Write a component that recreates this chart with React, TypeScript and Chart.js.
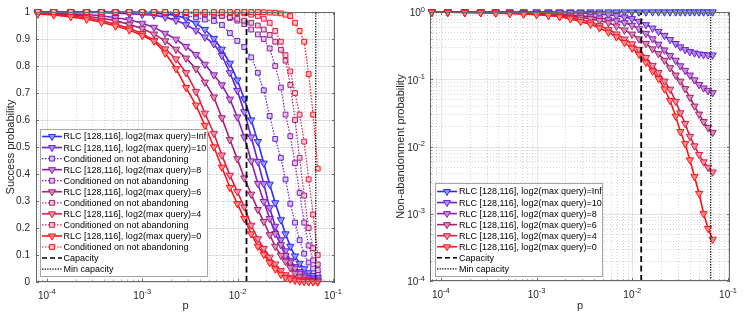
import React, { useEffect, useRef } from "react";
import { Chart, registerables } from "chart.js";
Chart.register(...registerables);

const FONT = '"Liberation Sans", Arial, Helvetica, sans-serif';

// channel error probability p (x values, shared by every series)
const P = [8.05e-5, 1.18e-4, 1.78e-4, 2.61e-4, 3.74e-4, 5.24e-4, 7.33e-4, 1.0e-3, 1.33e-3, 1.74e-3, 2.26e-3, 2.88e-3, 3.66e-3, 4.54e-3, 5.64e-3, 6.84e-3, 8.3e-3, 9.93e-3, 1.175e-2, 1.39e-2, 1.63e-2, 1.88e-2, 2.17e-2, 2.48e-2, 2.84e-2, 3.18e-2, 3.57e-2, 4.0e-2, 4.47e-2, 4.99e-2, 5.56e-2, 6.19e-2, 6.92e-2];

// success probability (left panel)
const S_INF = [1, 1, 1, 1, 1, 0.999, 0.999, 0.998, 0.996, 0.993, 0.987, 0.976, 0.958, 0.935, 0.902, 0.862, 0.81, 0.748, 0.678, 0.6, 0.52, 0.44, 0.362, 0.293, 0.23, 0.178, 0.132, 0.096, 0.069, 0.049, 0.034, 0.024, 0.016];
const S_10 = [1, 1, 0.999, 0.998, 0.998, 0.996, 0.994, 0.991, 0.988, 0.981, 0.969, 0.953, 0.932, 0.907, 0.882, 0.839, 0.775, 0.709, 0.63, 0.537, 0.446, 0.364, 0.275, 0.206, 0.156, 0.115, 0.08, 0.0565, 0.038, 0.0249, 0.0167, 0.0115, 0.0076];
const S_8 = [0.998, 0.995, 0.993, 0.991, 0.986, 0.979, 0.971, 0.958, 0.943, 0.921, 0.899, 0.872, 0.842, 0.806, 0.767, 0.73, 0.677, 0.611, 0.537, 0.448, 0.365, 0.298, 0.235, 0.179, 0.138, 0.098, 0.073, 0.0506, 0.0322, 0.0183, 0.01, 0.0054, 0.0028];
const S_6 = [0.995, 0.993, 0.989, 0.984, 0.977, 0.968, 0.954, 0.939, 0.918, 0.893, 0.862, 0.829, 0.79, 0.74, 0.685, 0.608, 0.527, 0.456, 0.385, 0.325, 0.268, 0.224, 0.175, 0.132, 0.099, 0.0765, 0.0529, 0.0322, 0.0183, 0.0097, 0.0047, 0.0024, 0.0011];
const S_4 = [0.995, 0.991, 0.986, 0.979, 0.968, 0.955, 0.94, 0.92, 0.895, 0.863, 0.826, 0.775, 0.705, 0.625, 0.55, 0.47, 0.395, 0.335, 0.278, 0.21, 0.16, 0.124, 0.0915, 0.0665, 0.0417, 0.0265, 0.0171, 0.0099, 0.0063, 0.0039, 0.0022, 0.0012, 0.0004];
const S_0 = [0.993, 0.989, 0.982, 0.973, 0.962, 0.948, 0.933, 0.913, 0.892, 0.848, 0.79, 0.72, 0.655, 0.58, 0.5, 0.425, 0.35, 0.29, 0.235, 0.178, 0.132, 0.102, 0.0715, 0.048, 0.0281, 0.0164, 0.0108, 0.006, 0.0033, 0.0018, 0.00077, 0.00037, 0.00018];

// success conditioned on not abandoning (left panel, dotted)
const C_10 = [1, 1, 1, 1, 1, 0.999, 0.999, 0.998, 0.997, 0.995, 0.992, 0.987, 0.98, 0.972, 0.967, 0.952, 0.922, 0.893, 0.87, 0.832, 0.775, 0.71, 0.615, 0.53, 0.46, 0.38, 0.29, 0.22, 0.155, 0.105, 0.072, 0.05, 0.033];
const C_8 = [1, 1, 1, 1, 1, 1, 1, 0.999, 0.999, 0.998, 0.997, 0.996, 0.994, 0.992, 0.989, 0.985, 0.978, 0.968, 0.955, 0.935, 0.917, 0.9, 0.865, 0.8, 0.72, 0.62, 0.54, 0.44, 0.33, 0.22, 0.135, 0.08, 0.044];
const C_6 = [1, 1, 1, 1, 1, 1, 0.999, 0.999, 0.998, 0.998, 0.997, 0.996, 0.995, 0.993, 0.99, 0.986, 0.981, 0.975, 0.968, 0.96, 0.95, 0.935, 0.915, 0.89, 0.86, 0.82, 0.73, 0.6, 0.46, 0.32, 0.2, 0.125, 0.065];
const C_4 = [1, 1, 1, 1, 1, 1, 1, 1, 1, 1, 0.999, 0.999, 0.998, 0.998, 0.997, 0.997, 0.996, 0.996, 0.995, 0.99, 0.985, 0.975, 0.96, 0.93, 0.89, 0.84, 0.78, 0.7, 0.62, 0.52, 0.38, 0.25, 0.1];
const C_0 = [1, 1, 1, 1, 1, 1, 1, 1, 1, 1, 1, 1, 1, 1, 1, 1, 1, 1, 1, 1, 1, 0.999, 0.998, 0.997, 0.995, 0.99, 0.985, 0.96, 0.93, 0.89, 0.77, 0.62, 0.42];

// non-abandonment probability (right panel)
const N_INF = [1, 1, 1, 1, 1, 1, 1, 1, 1, 1, 1, 1, 1, 1, 1, 1, 1, 1, 1, 1, 1, 1, 1, 1, 1, 1, 1, 1, 1, 1, 1, 1, 1];
const N_10 = [1, 1, 0.999, 0.998, 0.998, 0.997, 0.995, 0.993, 0.991, 0.986, 0.977, 0.966, 0.951, 0.933, 0.912, 0.881, 0.841, 0.794, 0.724, 0.646, 0.575, 0.513, 0.447, 0.389, 0.339, 0.302, 0.275, 0.257, 0.245, 0.237, 0.232, 0.229, 0.229];
const N_8 = [0.998, 0.995, 0.993, 0.991, 0.986, 0.979, 0.971, 0.959, 0.944, 0.923, 0.902, 0.875, 0.847, 0.813, 0.776, 0.741, 0.692, 0.631, 0.562, 0.479, 0.398, 0.331, 0.272, 0.224, 0.191, 0.158, 0.135, 0.115, 0.0977, 0.0832, 0.0741, 0.0676, 0.0631];
const N_6 = [0.995, 0.993, 0.989, 0.984, 0.977, 0.968, 0.955, 0.94, 0.92, 0.895, 0.865, 0.832, 0.794, 0.745, 0.692, 0.617, 0.537, 0.468, 0.398, 0.339, 0.282, 0.24, 0.191, 0.148, 0.115, 0.0933, 0.0724, 0.0537, 0.0398, 0.0302, 0.0234, 0.0191, 0.0162];
const N_4 = [0.995, 0.991, 0.986, 0.979, 0.968, 0.955, 0.94, 0.92, 0.895, 0.863, 0.826, 0.775, 0.705, 0.625, 0.55, 0.47, 0.395, 0.335, 0.278, 0.21, 0.16, 0.125, 0.0935, 0.0708, 0.0468, 0.0316, 0.0219, 0.0141, 0.0102, 0.00759, 0.00589, 0.0049, 0.00417];
const N_0 = [0.993, 0.989, 0.982, 0.973, 0.962, 0.948, 0.933, 0.913, 0.892, 0.848, 0.79, 0.72, 0.655, 0.58, 0.5, 0.425, 0.35, 0.29, 0.235, 0.178, 0.132, 0.102, 0.0716, 0.0482, 0.0282, 0.0166, 0.011, 0.0063, 0.00355, 0.002, 0.001, 0.000603, 0.000417];

const CAPACITY = 0.0124;
const MIN_CAPACITY = 0.066;
const X_MIN = 7.7e-5;
const X_MAX = 0.105;
const X_TICKS = [1e-4, 1e-3, 1e-2, 1e-1];
const Y_LIN_TICKS = [0, 0.1, 0.2, 0.3, 0.4, 0.5, 0.6, 0.7, 0.8, 0.9, 1];
const Y_LOG_TICKS = [1e-4, 1e-3, 1e-2, 1e-1, 1];

const QUERY = ["Inf", "10", "8", "6", "4", "0"];
const COLORS = ["rgb(43,43,255)", "rgb(106,31,214)", "rgb(140,31,174)", "rgb(168,32,111)", "rgb(220,31,72)", "rgb(255,20,20)"];
const TRI_FILL = ["rgb(149,149,255)", "rgb(180,143,234)", "rgb(197,143,214)", "rgb(211,143,183)", "rgb(237,143,163)", "rgb(255,137,137)"];
const SQ_FILL = ["rgb(202,202,255)", "rgb(218,199,245)", "rgb(226,199,235)", "rgb(233,200,219)", "rgb(246,199,209)", "rgb(255,197,197)"];

const rlcLabel = (q: string) => `RLC [128,116], log2(max query)=${q}`;
const pts = (arr: number[]) => P.map((x, i) => ({ x, y: arr[i] }));

function solidDs(arr: number[], ci: number) {
  return {
    label: rlcLabel(QUERY[ci]), data: pts(arr), borderColor: COLORS[ci], backgroundColor: TRI_FILL[ci],
    borderWidth: 1.6, pointStyle: "triangle", pointRotation: 180, pointRadius: 4.2, pointBorderWidth: 1,
    pointBackgroundColor: TRI_FILL[ci], pointBorderColor: COLORS[ci], tension: 0, clip: false,
  };
}
function dottedDs(arr: number[], ci: number) {
  return {
    label: "Conditioned on not abandoning", data: pts(arr), borderColor: COLORS[ci], backgroundColor: SQ_FILL[ci],
    borderWidth: 1.2, borderDash: [1.5, 1.5], pointStyle: "rect", pointRadius: 3.4, pointBorderWidth: 1,
    pointBackgroundColor: SQ_FILL[ci], pointBorderColor: COLORS[ci], tension: 0, clip: false,
  };
}
function vline(label: string, x: number, y0: number, y1: number, dash: number[], w: number) {
  return { label, data: [{ x, y: y0 }, { x, y: y1 }], borderColor: "#000", borderWidth: w, borderDash: dash, pointRadius: 0, clip: false };
}

type LegItem = { text: string; color: string; fill: string; dash: number[]; width: number; marker: "tri" | "sq" | "none" };

function drawTri(ctx: CanvasRenderingContext2D, x: number, y: number, r: number, stroke: string, fill: string) {
  ctx.beginPath();
  ctx.moveTo(x, y + r);
  ctx.lineTo(x - r * 0.866, y - r * 0.5);
  ctx.lineTo(x + r * 0.866, y - r * 0.5);
  ctx.closePath();
  ctx.fillStyle = fill; ctx.fill();
  ctx.strokeStyle = stroke; ctx.lineWidth = 1; ctx.stroke();
}
function drawSq(ctx: CanvasRenderingContext2D, x: number, y: number, s: number, stroke: string, fill: string) {
  ctx.fillStyle = fill; ctx.fillRect(x - s, y - s, 2 * s, 2 * s);
  ctx.strokeStyle = stroke; ctx.lineWidth = 1; ctx.strokeRect(x - s, y - s, 2 * s, 2 * s);
}

function legendPlugin(items: LegItem[], c: { bx: number; by: number; bw: number; bh: number; y0: number; dy: number; s0: number; s1: number; tx: number }) {
  return {
    id: "customLegend",
    afterDraw(chart: any) {
      const ctx: CanvasRenderingContext2D = chart.ctx;
      ctx.save();
      ctx.fillStyle = "#fff";
      ctx.fillRect(c.bx, c.by, c.bw, c.bh);
      ctx.strokeStyle = "#a6a6a6"; ctx.lineWidth = 1;
      ctx.strokeRect(c.bx + 0.5, c.by + 0.5, c.bw - 1, c.bh - 1);
      ctx.font = `9px ${FONT}`;
      ctx.textBaseline = "middle";
      ctx.textAlign = "left";
      items.forEach((it, i) => {
        const y = c.y0 + i * c.dy;
        ctx.strokeStyle = it.color; ctx.lineWidth = it.width; ctx.setLineDash(it.dash);
        ctx.beginPath(); ctx.moveTo(c.s0, y); ctx.lineTo(c.s1, y); ctx.stroke();
        ctx.setLineDash([]);
        const mx = (c.s0 + c.s1) / 2;
        if (it.marker === "tri") drawTri(ctx, mx, y, 4, it.color, it.fill);
        if (it.marker === "sq") drawSq(ctx, mx, y, 2.4, it.color, it.fill);
        ctx.fillStyle = "#000";
        ctx.fillText(it.text, c.tx, y + 0.5);
      });
      ctx.restore();
    },
  };
}

const TEXT = "#262626";

// draws "10" with a raised exponent, as tick label text
function drawPow(ctx: CanvasRenderingContext2D, v: number, x: number, baseline: number, align: "center" | "right") {
  const e = String(Math.round(Math.log10(v)));
  ctx.font = `10px ${FONT}`;
  const wb = ctx.measureText("10").width;
  ctx.font = `7.5px ${FONT}`;
  const we = ctx.measureText(e).width;
  const total = wb + we;
  const x0 = align === "center" ? x - total / 2 : x - total;
  ctx.textAlign = "left";
  ctx.textBaseline = "alphabetic";
  ctx.fillStyle = TEXT;
  ctx.font = `10px ${FONT}`;
  ctx.fillText("10", x0, baseline);
  ctx.font = `7.5px ${FONT}`;
  ctx.fillText(e, x0 + wb, baseline - 4.8);
}

function framePlugin(yLog: boolean, yTicks: number[]) {
  return {
    id: "frame",
    beforeDatasetsDraw(chart: any) {
      const ctx: CanvasRenderingContext2D = chart.ctx;
      const a = chart.chartArea;
      const xs = chart.scales.x, ys = chart.scales.y;
      ctx.save();
      ctx.lineWidth = 1;
      ctx.strokeStyle = "rgba(0,0,0,0.17)";
      ctx.setLineDash([1, 2]);
      for (let e = -5; e <= 0; e++) {
        for (let k = 2; k <= 9; k++) {
          const v = k * Math.pow(10, e);
          if (v > xs.min && v < xs.max) {
            const px = Math.round(xs.getPixelForValue(v)) + 0.5;
            ctx.beginPath(); ctx.moveTo(px, a.top); ctx.lineTo(px, a.bottom); ctx.stroke();
          }
          if (yLog && v > ys.min && v < ys.max) {
            const py = Math.round(ys.getPixelForValue(v)) + 0.5;
            ctx.beginPath(); ctx.moveTo(a.left, py); ctx.lineTo(a.right, py); ctx.stroke();
          }
        }
      }
      ctx.setLineDash([]);
      ctx.strokeStyle = "rgba(0,0,0,0.1)";
      X_TICKS.forEach((v) => {
        const px = Math.round(xs.getPixelForValue(v)) + 0.5;
        ctx.beginPath(); ctx.moveTo(px, a.top); ctx.lineTo(px, a.bottom); ctx.stroke();
      });
      yTicks.forEach((v) => {
        const py = Math.round(ys.getPixelForValue(v)) + 0.5;
        ctx.beginPath(); ctx.moveTo(a.left, py); ctx.lineTo(a.right, py); ctx.stroke();
      });
      ctx.restore();
    },
    afterDatasetsDraw(chart: any) {
      const ctx: CanvasRenderingContext2D = chart.ctx;
      const a = chart.chartArea;
      const xs = chart.scales.x, ys = chart.scales.y;
      ctx.save();
      ctx.strokeStyle = "#6a6a6a";
      ctx.lineWidth = 1;
      ctx.strokeRect(a.left + 0.5, a.top + 0.5, a.right - a.left - 1, a.bottom - a.top - 1);
      const tickX = (v: number, len: number) => {
        const px = Math.round(xs.getPixelForValue(v)) + 0.5;
        ctx.beginPath();
        ctx.moveTo(px, a.bottom); ctx.lineTo(px, a.bottom - len);
        ctx.moveTo(px, a.top); ctx.lineTo(px, a.top + len);
        ctx.stroke();
      };
      const tickY = (v: number, len: number) => {
        const py = Math.round(ys.getPixelForValue(v)) + 0.5;
        ctx.beginPath();
        ctx.moveTo(a.left, py); ctx.lineTo(a.left + len, py);
        ctx.moveTo(a.right, py); ctx.lineTo(a.right - len, py);
        ctx.stroke();
      };
      for (let e = -5; e <= 0; e++) {
        for (let k = 2; k <= 9; k++) {
          const v = k * Math.pow(10, e);
          if (v > xs.min && v < xs.max) tickX(v, 1.5);
          if (yLog && v > ys.min && v < ys.max) tickY(v, 1.5);
        }
      }
      X_TICKS.forEach((v) => tickX(v, 3));
      yTicks.forEach((v) => tickY(v, 3));
      // power-of-ten tick labels
      X_TICKS.forEach((v) => drawPow(ctx, v, xs.getPixelForValue(v), a.bottom + 16.5, "center"));
      if (yLog) yTicks.forEach((v) => drawPow(ctx, v, a.left - 5, ys.getPixelForValue(v) + 4.3, "right"));
      ctx.restore();
    },
  };
}

const tickFont = { family: FONT, size: 10 };
const titleFont = { family: FONT, size: 11 };

function xScale(height: number) {
  return {
    type: "logarithmic", min: X_MIN, max: X_MAX,
    afterFit: (s: any) => { s.height = height; },
    afterBuildTicks: (s: any) => { s.ticks = X_TICKS.map((v) => ({ value: v })); },
    ticks: { display: false },
    grid: { display: false, drawTicks: false },
    border: { display: false },
    title: { display: true, text: "p", font: titleFont, color: TEXT, padding: { top: 0, bottom: 5 } },
  };
}

function applyOrder(ds: any[]) {
  return ds.map((d, i) => ({ ...d, order: ds.length - i }));
}

function LeftChart() {
  const ref = useRef<HTMLCanvasElement>(null);
  useEffect(() => {
    const sets = [
      solidDs(S_INF, 0),
      solidDs(S_10, 1), dottedDs(C_10, 1),
      solidDs(S_8, 2), dottedDs(C_8, 2),
      solidDs(S_6, 3), dottedDs(C_6, 3),
      solidDs(S_4, 4), dottedDs(C_4, 4),
      solidDs(S_0, 5), dottedDs(C_0, 5),
      vline("Capacity", CAPACITY, 0, 1, [6, 3.5], 1.8),
      vline("Min capacity", MIN_CAPACITY, 0, 1, [1.3, 1.3], 1.2),
    ];
    const items: LegItem[] = [];
    items.push({ text: rlcLabel(QUERY[0]), color: COLORS[0], fill: TRI_FILL[0], dash: [], width: 1.6, marker: "tri" });
    for (let ci = 1; ci < 6; ci++) {
      items.push({ text: rlcLabel(QUERY[ci]), color: COLORS[ci], fill: TRI_FILL[ci], dash: [], width: 1.6, marker: "tri" });
      items.push({ text: "Conditioned on not abandoning", color: COLORS[ci], fill: SQ_FILL[ci], dash: [1.5, 1.5], width: 1.2, marker: "sq" });
    }
    items.push({ text: "Capacity", color: "#000", fill: "#000", dash: [5, 3], width: 1.6, marker: "none" });
    items.push({ text: "Min capacity", color: "#000", fill: "#000", dash: [1.3, 1.3], width: 1.1, marker: "none" });

    const chart = new Chart(ref.current as HTMLCanvasElement, {
      type: "line",
      data: { datasets: applyOrder(sets) as any },
      options: {
        animation: false, responsive: false, events: [],
        layout: { padding: { left: 0, right: 39, top: 12, bottom: 0 } },
        plugins: { legend: { display: false }, tooltip: { enabled: false } },
        scales: {
          x: xScale(36) as any,
          y: {
            type: "linear", min: 0, max: 1,
            afterFit: (s: any) => { s.width = 36; },
            afterBuildTicks: (s: any) => { s.ticks = Y_LIN_TICKS.map((v) => ({ value: v })); },
            ticks: { callback: (v: any) => (Number(v) === 0 ? "0" : Number(v) === 1 ? "1" : Number(v).toFixed(1)), font: tickFont, color: TEXT, padding: 6, autoSkip: false },
            grid: { display: false, drawTicks: false },
            border: { display: false },
            title: { display: true, text: "Success probability", font: titleFont, color: TEXT, padding: { top: 4, bottom: 0 } },
          } as any,
        },
      },
      plugins: [framePlugin(false, Y_LIN_TICKS), legendPlugin(items, { bx: 40, by: 129, bw: 168, bh: 148, y0: 136.5, dy: 11.05, s0: 42, s1: 62, tx: 63.5 })],
    });
    return () => chart.destroy();
  }, []);
  return <canvas ref={ref} width={374} height={318} style={{ display: "block" }} />;
}

function RightChart() {
  const ref = useRef<HTMLCanvasElement>(null);
  useEffect(() => {
    const sets = [
      solidDs(N_INF, 0), solidDs(N_10, 1), solidDs(N_8, 2), solidDs(N_6, 3), solidDs(N_4, 4), solidDs(N_0, 5),
      vline("Capacity", CAPACITY, 1e-4, 1, [6, 3.5], 1.8),
      vline("Min capacity", MIN_CAPACITY, 1e-4, 1, [1.3, 1.3], 1.2),
    ];
    const items: LegItem[] = [];
    for (let ci = 0; ci < 6; ci++) items.push({ text: rlcLabel(QUERY[ci]), color: COLORS[ci], fill: TRI_FILL[ci], dash: [], width: 1.6, marker: "tri" });
    items.push({ text: "Capacity", color: "#000", fill: "#000", dash: [5, 3], width: 1.6, marker: "none" });
    items.push({ text: "Min capacity", color: "#000", fill: "#000", dash: [1.3, 1.3], width: 1.1, marker: "none" });

    const chart = new Chart(ref.current as HTMLCanvasElement, {
      type: "line",
      data: { datasets: applyOrder(sets) as any },
      options: {
        animation: false, responsive: false, events: [],
        layout: { padding: { left: 0, right: 18, top: 12, bottom: 0 } },
        plugins: { legend: { display: false }, tooltip: { enabled: false } },
        scales: {
          x: xScale(37) as any,
          y: {
            type: "logarithmic", min: 1e-4, max: 1,
            afterFit: (s: any) => { s.width = 56; },
            afterBuildTicks: (s: any) => { s.ticks = Y_LOG_TICKS.map((v) => ({ value: v })); },
            ticks: { display: false },
            grid: { display: false, drawTicks: false },
            border: { display: false },
            title: { display: true, text: "Non-abandonment probability", font: titleFont, color: TEXT, padding: { top: 20, bottom: 0 } },
          } as any,
        },
      },
      plugins: [framePlugin(true, Y_LOG_TICKS), legendPlugin(items, { bx: 61, by: 183, bw: 168, bh: 94, y0: 191.5, dy: 11.05, s0: 63, s1: 83, tx: 85 })],
    });
    return () => chart.destroy();
  }, []);
  return <canvas ref={ref} width={374} height={318} style={{ display: "block" }} />;
}

export default function App() {
  return (
    <div style={{ position: "fixed", left: 0, top: 0, width: 748, height: 318, background: "#fff", display: "flex" }}>
      <LeftChart />
      <RightChart />
    </div>
  );
}
